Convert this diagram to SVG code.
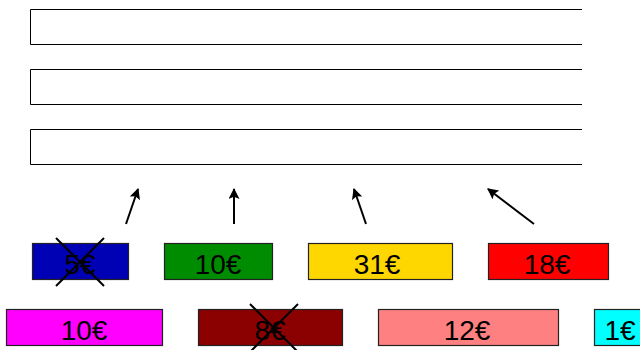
<svg xmlns="http://www.w3.org/2000/svg" width="640" height="350" viewBox="0 0 640 350">
<style>
.slot{fill:none;stroke:#000;stroke-width:1}
.box{stroke:#222;stroke-width:1.2}
.lbl{font-family:"Liberation Sans",Arial,sans-serif;font-size:28px;fill:#000;text-anchor:middle}
.x{stroke:#000;stroke-width:2;fill:none}
.arr{stroke:#000;stroke-width:2;fill:none;marker-end:url(#ah)}
</style>
<defs>
<marker id="ah" viewBox="0 0 10 10" refX="9" refY="5" markerWidth="6" markerHeight="5.5" orient="auto" markerUnits="strokeWidth">
<path d="M0,0 L10,5 L0,10 L2,5 z" fill="#000"/>
</marker>
</defs>
<rect width="640" height="350" fill="#fff"/>
<g id="slots">
<path class="slot" d="M582,9.5 H30.5 V44.5 H582"/>
<path class="slot" d="M582,69.5 H30.5 V104.5 H582"/>
<path class="slot" d="M582,129.5 H30.5 V164.5 H582"/>
</g>
<g id="connectors">
<line class="arr" x1="126" y1="224" x2="138" y2="189"/>
<line class="arr" x1="234" y1="224" x2="234" y2="189"/>
<line class="arr" x1="366" y1="224" x2="354" y2="189"/>
<line class="arr" x1="534" y1="224" x2="488" y2="189"/>
</g>
<g id="n5">
<rect class="box" x="32.5" y="243.5" width="96" height="36" fill="#0000b4"/>
<text class="lbl" x="80" y="274">5€</text>
<path class="x" d="M56,238 L104,286 M104,238 L56,286"/>
</g>
<g id="n10a">
<rect class="box" x="164.5" y="243.5" width="108" height="36" fill="#008c00"/>
<text class="lbl" x="218" y="274">10€</text>
</g>
<g id="n31">
<rect class="box" x="308.5" y="243.5" width="144" height="36" fill="#ffd700"/>
<text class="lbl" x="377" y="274">31€</text>
</g>
<g id="n18">
<rect class="box" x="488.5" y="243.5" width="120" height="36" fill="#ff0000"/>
<text class="lbl" x="547" y="274">18€</text>
</g>
<g id="n10b">
<rect class="box" x="6.5" y="309.5" width="156" height="36" fill="#ff00ff"/>
<text class="lbl" x="84" y="340">10€</text>
</g>
<g id="n8">
<rect class="box" x="198.5" y="309.5" width="144" height="36" fill="#8b0000"/>
<text class="lbl" x="270" y="340">8€</text>
<path class="x" d="M250,304 L298,352 M298,304 L250,352"/>
</g>
<g id="n12">
<rect class="box" x="378.5" y="309.5" width="180" height="36" fill="#ff8080"/>
<text class="lbl" x="467" y="340">12€</text>
</g>
<g id="n1">
<rect class="box" x="594.5" y="309.5" width="60" height="36" fill="#00ffff"/>
<text class="lbl" x="620" y="340">1€</text>
</g>
</svg>
